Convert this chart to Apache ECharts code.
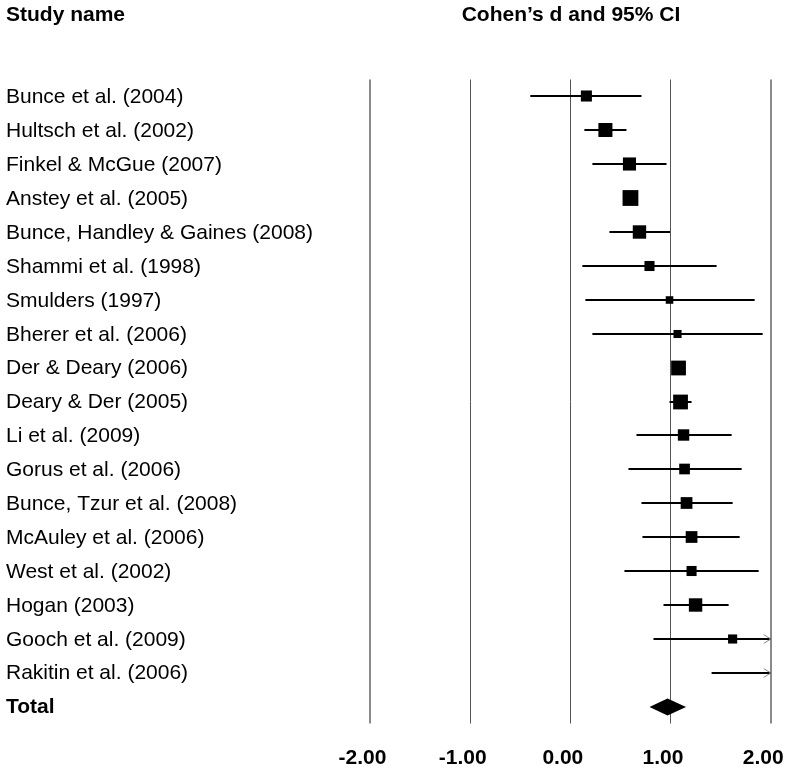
<!DOCTYPE html>
<html>
<head>
<meta charset="utf-8">
<script src="https://cdn.jsdelivr.net/npm/echarts@6/dist/echarts.min.js"></script>
<style>
html,body{margin:0;padding:0;background:#fff;}
#chart{width:789px;height:770px;}
</style>
</head>
<body>
<div id="chart"></div>
<script>
const studies = [
  'Bunce et al. (2004)',
  'Hultsch et al. (2002)',
  'Finkel & McGue (2007)',
  'Anstey et al. (2005)',
  'Bunce, Handley & Gaines (2008)',
  'Shammi et al. (1998)',
  'Smulders (1997)',
  'Bherer et al. (2006)',
  'Der & Deary (2006)',
  'Deary & Der (2005)',
  'Li et al. (2009)',
  'Gorus et al. (2006)',
  'Bunce, Tzur et al. (2008)',
  'McAuley et al. (2006)',
  'West et al. (2002)',
  'Hogan (2003)',
  'Gooch et al. (2009)',
  'Rakitin et al. (2006)'
];
const effect = [0.16, 0.35, 0.59, 0.60, 0.69, 0.79, 0.99, 1.07, 1.08, 1.10, 1.13, 1.14, 1.16, 1.21, 1.21, 1.25, 1.62, 2.30];
const lower  = [-0.40, 0.14, 0.22, 0.57, 0.39, 0.12, 0.15, 0.22, 1.05, 0.99, 0.66, 0.58, 0.71, 0.72, 0.54, 0.93, 0.83, 1.41];
const upper  = [0.71, 0.56, 0.96, 0.63, 0.995, 1.46, 1.84, 1.92, 1.11, 1.21, 1.61, 1.71, 1.62, 1.69, 1.88, 1.58, 2.41, 3.19];
const weights = [4.7, 7.6, 6.6, 9.6, 6.9, 3.9, 2.2, 2.5, 8.4, 8.4, 5.0, 4.4, 5.3, 5.3, 3.9, 6.9, 3.2, 3.0];
const totalLabel = 'Total';
const totalEffect = 0.97;
const totalLower = 0.79;
const totalUpper = 1.155;
const tickValues = [-2, -1, 0, 1, 2];

const FONT = '"Liberation Sans", Arial, Helvetica, sans-serif';
const categories = studies.concat([totalLabel]);
const rows = studies.map((s, i) => [i, lower[i], effect[i], upper[i], weights[i], 0]);
rows.push([studies.length, totalLower, totalEffect, totalUpper, 0, 1]);

function renderItem(params, api) {
  const row = api.value(0);
  const lo = api.value(1), pt = api.value(2), hi = api.value(3), w = api.value(4), kind = api.value(5);
  const y = Math.round(api.coord([0, row])[1]);
  const xmin = api.coord([-2, row])[0];
  const xmax = api.coord([2, row])[0];
  const px = v => api.coord([v, row])[0];
  const clamp = v => Math.max(xmin, Math.min(xmax, px(v)));
  const children = [];
  if (kind === 1) {
    const xl = px(lo), xp = px(pt), xh = px(hi);
    children.push({type: 'polygon', shape: {points: [[xl, y], [xp, y - 8.5], [xh, y], [xp, y + 8.5]]}, style: {fill: '#000'}});
  } else {
    const xl = clamp(lo), xh = clamp(hi);
    children.push({type: 'line', shape: {x1: xl, y1: y, x2: xh, y2: y}, style: {stroke: '#000', lineWidth: 2}});
    if (pt >= -2 && pt <= 2) {
      const side = 5.1 * Math.sqrt(w);
      const xp = px(pt);
      children.push({type: 'rect', shape: {x: xp - side / 2, y: y - side / 2, width: side, height: side}, style: {fill: '#000'}});
    }
    if (hi > 2) {
      children.push({type: 'polyline', shape: {points: [[xmax - 7, y - 4.5], [xmax, y], [xmax - 7, y + 4.5]]}, style: {stroke: '#888', lineWidth: 1, fill: null}});
    }
    if (lo < -2) {
      children.push({type: 'polyline', shape: {points: [[xmin + 7, y - 4.5], [xmin, y], [xmin + 7, y + 4.5]]}, style: {stroke: '#888', lineWidth: 1, fill: null}});
    }
  }
  return {type: 'group', children: children};
}

const chart = echarts.init(document.getElementById('chart'), null, {renderer: 'canvas'});
chart.setOption({
  animation: false,
  backgroundColor: '#fff',
  textStyle: {fontFamily: FONT},
  title: [
    {text: 'Study name', left: 6, top: 5, padding: 0,
     textStyle: {fontFamily: FONT, fontSize: 21, fontWeight: 'bold', color: '#000'}},
    {text: 'Cohen\u2019s d and 95% CI', left: 571, textAlign: 'center', top: 5, padding: 0,
     textStyle: {fontFamily: FONT, fontSize: 21, fontWeight: 'bold', color: '#000'}}
  ],
  grid: {left: 370, right: 18.3, top: 79.5, bottom: 46.5, containLabel: false},
  xAxis: {
    type: 'value', min: -2, max: 2, interval: 1,
    axisLine: {show: false}, axisTick: {show: false}, splitLine: {show: false},
    axisLabel: {
      formatter: v => v.toFixed(2), fontFamily: FONT, fontSize: 21, fontWeight: 'bold',
      color: '#000', margin: 24, align: 'center', padding: [0, 15, 0, 0]
    }
  },
  yAxis: {
    type: 'category', data: categories, inverse: true,
    axisLine: {show: false}, axisTick: {show: false}, splitLine: {show: false},
    axisLabel: {
      interval: 0, align: 'left', margin: 364, fontFamily: FONT, fontSize: 21, color: '#000',
      padding: [2, 0, 0, 0],
      formatter: v => v === totalLabel ? '{b|' + v + '}' : v,
      rich: {b: {fontFamily: FONT, fontSize: 21, fontWeight: 'bold', color: '#000'}}
    }
  },
  series: [{
    type: 'custom',
    renderItem: renderItem,
    encode: {x: [1, 2, 3], y: 0},
    data: rows,
    silent: true,
    clip: false,
    z: 3,
    markLine: {
      silent: true, symbol: ['none', 'none'], label: {show: false},
      data: tickValues.map(v => ({
        xAxis: v,
        lineStyle: (v === -2 || v === 2) ? {color: '#8a8a8a', width: 2, type: 'solid'} : {color: '#555', width: 1, type: 'solid'}
      })),
      animation: false,
      z: 1
    }
  }]
});
</script>
</body>
</html>
